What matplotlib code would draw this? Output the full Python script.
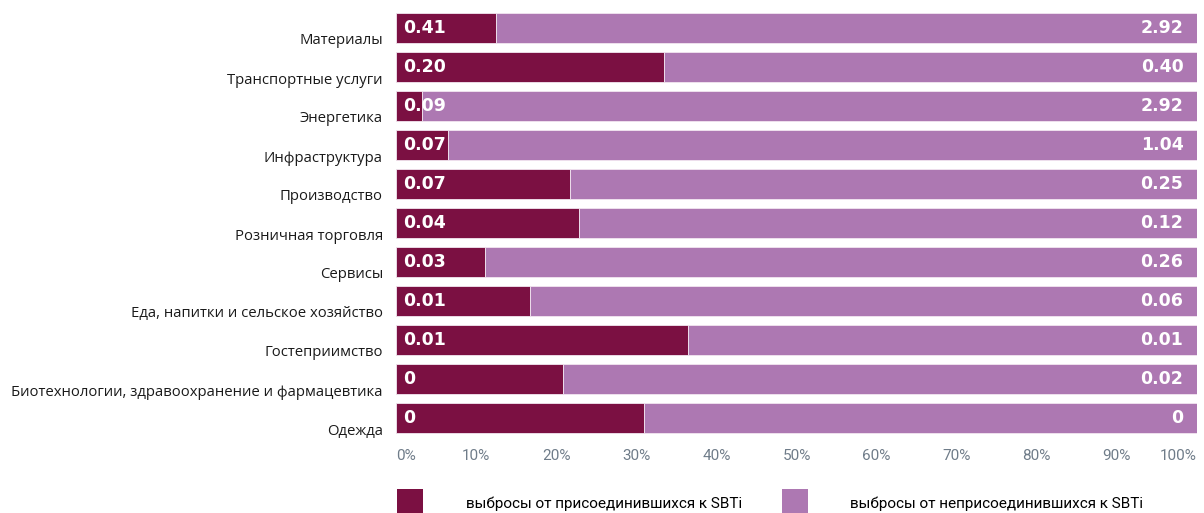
import matplotlib.pyplot as plt
from matplotlib.patches import Patch
from matplotlib.transforms import ScaledTranslation

# Data (bar shares in %, labels are absolute values)
sectors = ['Материалы', 'Транспортные услуги', 'Энергетика', 'Инфраструктура',
           'Производство', 'Розничная торговля', 'Сервисы',
           'Еда, напитки и сельское хозяйство', 'Гостеприимство',
           'Биотехнологии, здравоохранение и фармацевтика', 'Одежда']
joined_share = [12.5, 33.4, 3.3, 6.5, 21.7, 22.8, 11.1, 16.7, 36.4, 20.8, 31.0]
joined_labels = ['0.41', '0.20', '0.09', '0.07', '0.07', '0.04', '0.03', '0.01', '0.01', '0', '0']
other_labels = ['2.92', '0.40', '2.92', '1.04', '0.25', '0.12', '0.26', '0.06', '0.01', '0.02', '0']
legend_names = ['выбросы от присоединившихся к SBTi', 'выбросы от неприсоединившихся к SBTi']

dark = '#7b1042'
light = '#ad78b2'

fig = plt.figure(figsize=(12.04, 5.13), dpi=100)
ax = fig.add_axes([396 / 1204, 1 - 437.5 / 513, 801 / 1204, 429 / 513])

y = list(range(len(sectors)))
other_share = [100 - v for v in joined_share]
ax.barh(y, joined_share, height=0.77, color=dark, edgecolor='#f2e6f0', linewidth=0.6)
ax.barh(y, other_share, left=joined_share, height=0.77, color=light,
        edgecolor='#f2e6f0', linewidth=0.6)

for i in y:
    ax.text(0.9, i, joined_labels[i], color='white', fontsize=12.5, fontweight='bold',
            ha='left', va='center')
    ax.text(98.3, i, other_labels[i], color='white', fontsize=12.5, fontweight='bold',
            ha='right', va='center')

ax.set_xlim(0, 100)
ax.set_ylim(len(sectors) - 0.5, -0.5)
ax.set_yticks(y)
ax.set_yticklabels(sectors, fontsize=10.75, family='Open Sans', color='#1a1a1a')
ax.set_xticks(range(0, 101, 10))
ax.set_xticklabels([f'{t}%' for t in range(0, 101, 10)], fontsize=11,
                   family='Roboto', color='#6f7c89')
ax.tick_params(axis='both', length=0)
ax.tick_params(axis='y', pad=9.4)
ax.tick_params(axis='x', pad=8.5)

for lab in ax.get_yticklabels():
    lab.set_transform(lab.get_transform() + ScaledTranslation(0, -11 / 100, fig.dpi_scale_trans))
xlabs = ax.get_xticklabels()
xlabs[0].set_ha('left')
xlabs[-1].set_ha('right')

for s in ax.spines.values():
    s.set_visible(False)

handles = [Patch(facecolor=dark), Patch(facecolor=light)]
fig.legend(handles, legend_names, loc='upper left', bbox_to_anchor=(397 / 1204, 1 - 489 / 513),
           ncol=2, frameon=False, borderpad=0, borderaxespad=0,
           handlelength=1.7, handleheight=2.5, handletextpad=2.8, columnspacing=2.6,
           prop={'family': 'Roboto', 'size': 11})

fig.savefig('out.png', dpi=100)
